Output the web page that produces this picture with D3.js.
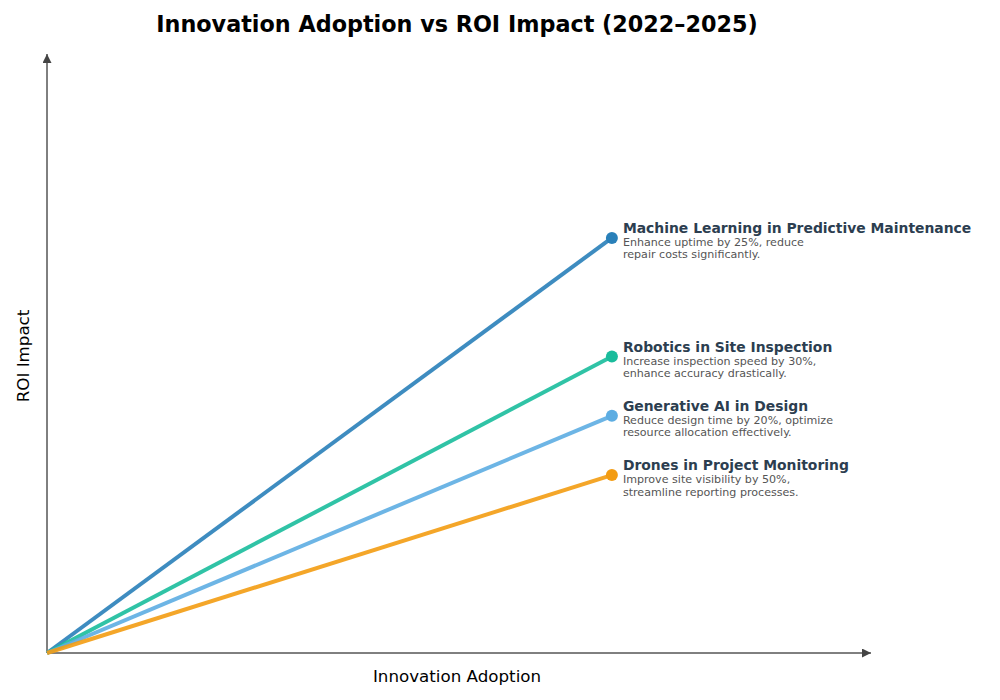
<!DOCTYPE html>
<html>
<head>
<meta charset="utf-8">
<script src="https://cdn.jsdelivr.net/npm/d3@7"></script>
<style>
  body { margin: 0; background: #fff; }
  text { font-family: "DejaVu Sans", sans-serif; }
</style>
</head>
<body>
<div id="chart"></div>
<script>
// chart data
const names = [
  "Machine Learning in Predictive Maintenance",
  "Robotics in Site Inspection",
  "Generative AI in Design",
  "Drones in Project Monitoring"
];
const adoption = [0.7, 0.7, 0.7, 0.7];
const roi = [0.7, 0.5, 0.4, 0.3];
const notes = [
  ["Enhance uptime by 25%, reduce", "repair costs significantly."],
  ["Increase inspection speed by 30%,", "enhance accuracy drastically."],
  ["Reduce design time by 20%, optimize", "resource allocation effectively."],
  ["Improve site visibility by 50%,", "streamline reporting processes."]
];
const colors = ["#2980b9", "#1abc9c", "#5dade2", "#f39c12"];

const width = 1000, height = 700;
const margin = {top: 60, right: 130, bottom: 47, left: 47};

const svg = d3.select("#chart").append("svg")
  .attr("width", width)
  .attr("height", height);

const x = d3.scaleLinear().domain([0, 1]).range([margin.left, 854]);
const y = d3.scaleLinear().domain([0, 1]).range([height - margin.bottom, margin.top]);

// arrow heads
const defs = svg.append("defs");
defs.append("marker")
  .attr("id", "arrow")
  .attr("viewBox", "0 0 10 10")
  .attr("refX", 10).attr("refY", 5)
  .attr("markerWidth", 9).attr("markerHeight", 9)
  .attr("markerUnits", "userSpaceOnUse")
  .attr("orient", "auto")
  .append("path")
  .attr("d", "M0,0 L10,5 L0,10 z")
  .attr("fill", "#444");

// axes
svg.append("line")
  .attr("x1", x(0)).attr("y1", y(0))
  .attr("x2", 871).attr("y2", y(0))
  .attr("stroke", "#000").attr("stroke-width", 1)
  .attr("marker-end", "url(#arrow)");
svg.append("line")
  .attr("x1", x(0)).attr("y1", y(0))
  .attr("x2", x(0)).attr("y2", 54)
  .attr("stroke", "#000").attr("stroke-width", 1)
  .attr("marker-end", "url(#arrow)");

// lines from origin
const data = names.map((n, i) => ({name: n, x: adoption[i], y: roi[i], note: notes[i], color: colors[i]}));

svg.append("g").selectAll("line")
  .data(data)
  .join("line")
    .attr("x1", x(0)).attr("y1", y(0))
    .attr("x2", d => x(d.x)).attr("y2", d => y(d.y))
    .attr("stroke", d => d.color)
    .attr("stroke-opacity", 0.9)
    .attr("stroke-width", 4)
    .attr("stroke-linecap", "butt");

svg.append("g").selectAll("circle")
  .data(data)
  .join("circle")
    .attr("cx", d => x(d.x))
    .attr("cy", d => y(d.y))
    .attr("r", 6)
    .attr("fill", d => d.color);

// annotations
const ann = svg.append("g").selectAll("g")
  .data(data)
  .join("g")
    .attr("transform", d => `translate(${x(d.x) + 11},${y(d.y)})`);

ann.append("text")
  .attr("y", -5)
  .attr("font-size", 13.9)
  .attr("font-weight", "bold")
  .attr("fill", "#2c3e50")
  .text(d => d.name);

ann.append("text")
  .attr("font-size", 11.1)
  .attr("fill", "#555")
  .selectAll("tspan")
  .data(d => d.note)
  .join("tspan")
    .attr("x", 0)
    .attr("y", (d, i) => 8 + i * 12.5)
    .text(d => d);

// titles
svg.append("text")
  .attr("x", 457).attr("y", 32)
  .attr("text-anchor", "middle")
  .attr("font-size", 22.3)
  .attr("font-weight", "bold")
  .attr("fill", "#000")
  .text("Innovation Adoption vs ROI Impact (2022–2025)");

svg.append("text")
  .attr("x", 457).attr("y", 682)
  .attr("text-anchor", "middle")
  .attr("font-size", 16.7)
  .attr("fill", "#000")
  .text("Innovation Adoption");

svg.append("text")
  .attr("transform", "translate(29,356) rotate(-90)")
  .attr("text-anchor", "middle")
  .attr("font-size", 16.7)
  .attr("fill", "#000")
  .text("ROI Impact");
</script>
</body>
</html>
